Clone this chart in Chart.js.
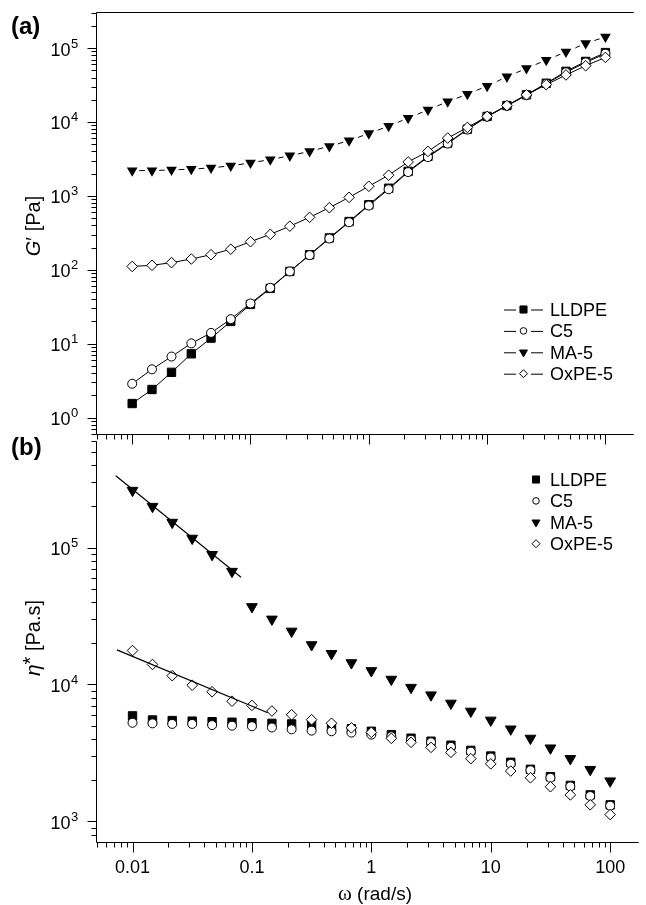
<!DOCTYPE html>
<html>
<head>
<meta charset="utf-8">
<script src="https://cdn.jsdelivr.net/npm/chart.js@4.4.0/dist/chart.umd.min.js"></script>
<style>
  body{margin:0;background:#fff;width:646px;height:905px;overflow:hidden;position:relative;}
  .panel{position:absolute;left:0;}
  #wrapA{top:0;}
  #wrapB{top:434px;}
</style>
</head>
<body>
<div class="panel" id="wrapA"><canvas id="chartA" width="646" height="450"></canvas></div>
<div class="panel" id="wrapB"><canvas id="chartB" width="646" height="471"></canvas></div>
<script>
// angular frequency, rad/s
const omega = [0.01, 0.0147, 0.0215, 0.0316, 0.0464, 0.0681, 0.1, 0.147, 0.215, 0.316, 0.464, 0.681,
  1, 1.47, 2.15, 3.16, 4.64, 6.81, 10, 14.7, 21.5, 31.6, 46.4, 68.1, 100];

// (a) storage modulus G' [Pa]
const gLLDPE = [1.55, 2.4, 4.1, 7.3, 11.9, 20, 34, 56, 95, 160, 270, 450, 760, 1270, 2150, 3430, 5190, 8000, 11900, 16700, 23300, 33400, 48500, 66000, 87000];
const gC5 = [2.87, 4.5, 6.7, 10.1, 14, 21.5, 35, 57, 95, 158, 265, 440, 740, 1230, 2100, 3350, 5100, 7900, 11800, 16500, 23000, 33000, 47000, 64000, 84000];
const gMA5 = [2200, 2200, 2250, 2300, 2400, 2550, 2800, 3100, 3500, 4000, 4700, 5600, 7000, 8800, 11300, 14600, 18900, 23800, 30700, 41000, 53200, 68900, 89100, 115700, 142000];
const gOxPE5 = [111, 115, 125, 140, 160, 190, 240, 302, 389, 513, 692, 955, 1350, 1905, 2880, 4000, 6060, 8440, 11900, 16700, 23300, 32000, 43300, 57700, 74800];

// (b) complex viscosity eta* [Pa.s]
const etaLLDPE = [5900, 5500, 5450, 5400, 5350, 5300, 5250, 5200, 5150, 5050, 4900, 4750, 4550, 4300, 4050, 3850, 3600, 3300, 3000, 2700, 2400, 2120, 1830, 1560, 1320];
const etaC5 = [5250, 5200, 5150, 5150, 5050, 5000, 4950, 4850, 4700, 4600, 4550, 4450, 4300, 4180, 3950, 3780, 3500, 3230, 2930, 2630, 2360, 2080, 1800, 1530, 1300];
const etaMA5 = [262000, 200000, 153000, 117000, 89000, 67000, 37000, 30000, 24500, 19500, 16800, 14400, 12600, 10900, 9510, 8380, 7290, 6370, 5480, 4720, 4040, 3430, 2870, 2390, 1970];
const etaOxPE5 = [17700, 14000, 11600, 9880, 8850, 7550, 7030, 6400, 6010, 5530, 5210, 4820, 4470, 4040, 3780, 3470, 3190, 2870, 2630, 2330, 2080, 1790, 1560, 1320, 1120];

// power-law fits at low frequency (end points)
const fitMA5Omega = [0.00724, 0.081];
const fitMA5Eta = [335000, 60800];
const fitOxPEOmega = [0.0074, 0.1355];
const fitOxPEEta = [17900, 6220];

const seriesNames = ['LLDPE', 'C5', 'MA-5', 'OxPE-5'];
const xTickLabels = ['0.01', '0.1', '1', '10', '100'];
const gExponents = [0, 1, 2, 3, 4, 5];
const etaExponents = [3, 4, 5];

const X_MIN = 0.004945, X_MAX = 173.7;
const FONT = '"Liberation Sans", Arial, sans-serif';

const markers = [
  {style: 'rect', r: 5.9, fill: '#000', lr: 5},
  {style: 'circle', r: 4.5, fill: '#fff', lr: 3.3},
  {style: 'triangle', rot: 180, r: 6.2, fill: '#000', lr: 4.6},
  {style: 'rectRot', r: 5.3, fill: '#fff', lr: 4}
];

function seriesDataset(i, ys, showLine) {
  const m = markers[i];
  return {
    label: seriesNames[i],
    data: omega.map((w, k) => ({x: w, y: ys[k]})),
    showLine: showLine,
    borderColor: '#000',
    borderWidth: 1,
    backgroundColor: m.fill,
    pointStyle: m.style,
    pointRotation: m.rot || 0,
    pointRadius: m.r,
    pointBorderColor: '#000',
    pointBackgroundColor: m.fill,
    pointBorderWidth: 1,
    tension: 0,
    order: 4 - i
  };
}

// filled triangles in (a): white rim leaves a small gap between line and symbol,
// drawn first so the rim never covers the other series
function withGap(ds) {
  ds.pointBorderColor = '#fff';
  ds.pointBorderWidth = 3;
  ds.pointRadius = ds.pointRadius + 3;
  ds.order = 9;
  return ds;
}

function fitDataset(ws, etas) {
  return {
    label: 'fit',
    data: ws.map((w, k) => ({x: w, y: etas[k]})),
    showLine: true,
    borderColor: '#000',
    borderWidth: 1.2,
    pointRadius: 0,
    order: 0
  };
}

function minorTicks(exps, min, max) {
  const list = [];
  for (let e = exps[0] - 1; e <= exps[exps.length - 1]; e++) {
    for (let m = 1; m < 10; m++) {
      const v = m * Math.pow(10, e);
      if (v >= min * 0.999 && v <= max * 1.001) list.push({v: v, major: m === 1});
    }
  }
  return list;
}

function powLabel(ctx, exp, xRight, y) {
  ctx.textBaseline = 'alphabetic';
  ctx.font = '18px ' + FONT;
  ctx.textAlign = 'right';
  ctx.fillText('10', xRight, y + 7.5);
  ctx.font = '13px ' + FONT;
  ctx.textAlign = 'left';
  ctx.fillText(String(exp), xRight + 0.6, y - 0.5);
}

function drawLegend(ctx, chart, x0, y0, step, withLine) {
  const H = Chart.helpers;
  seriesNames.forEach((name, i) => {
    const m = markers[i];
    const y = y0 + i * step;
    if (withLine) {
      ctx.beginPath();
      ctx.moveTo(504, y + 0.5);
      ctx.lineTo(516, y + 0.5);
      ctx.moveTo(531, y + 0.5);
      ctx.lineTo(543, y + 0.5);
      ctx.lineWidth = 1;
      ctx.strokeStyle = '#000';
      ctx.stroke();
    }
    ctx.fillStyle = m.fill;
    ctx.strokeStyle = '#000';
    ctx.lineWidth = 1;
    H.drawPoint(ctx, {pointStyle: m.style, radius: m.lr, rotation: m.rot || 0, borderWidth: 1}, withLine ? 523.5 : x0, y);
    ctx.fillStyle = '#000';
    ctx.font = '18px ' + FONT;
    ctx.textAlign = 'left';
    ctx.textBaseline = 'alphabetic';
    ctx.fillText(name, 550, y + 6.5);
  });
}

const framePlugin = {
  id: 'frame',
  afterDraw(chart, args, opts) {
    const ctx = chart.ctx;
    const a = chart.chartArea;
    const xs = chart.scales.x, ys = chart.scales.y;
    const L = Math.round(a.left) + 0.5, B = Math.round(a.bottom) + 0.5;
    ctx.save();
    ctx.strokeStyle = '#000';
    ctx.fillStyle = '#000';
    ctx.lineWidth = 1;

    // axis lines
    ctx.beginPath();
    ctx.moveTo(L, opts.panel === 'a' ? Math.round(a.top) + 0.5 : a.top);
    ctx.lineTo(L, B);
    ctx.lineTo(a.right, B);
    if (opts.panel === 'a') {
      ctx.moveTo(L, Math.round(a.top) + 0.5);
      ctx.lineTo(a.right, Math.round(a.top) + 0.5);
    }
    ctx.stroke();

    // x ticks, pointing down
    ctx.beginPath();
    minorTicks([-2, 2], X_MIN, X_MAX).forEach(t => {
      const px = Math.round(xs.getPixelForValue(t.v)) + 0.5;
      ctx.moveTo(px, B);
      ctx.lineTo(px, B + (t.major ? 10 : 5));
    });
    // y ticks, pointing left
    minorTicks(opts.exps, ys.min, ys.max).forEach(t => {
      const py = Math.round(ys.getPixelForValue(t.v)) + 0.5;
      ctx.moveTo(L, py);
      ctx.lineTo(L - (t.major ? 9 : 5), py);
    });
    ctx.stroke();

    opts.exps.forEach(e => powLabel(ctx, e, 70.5, ys.getPixelForValue(Math.pow(10, e))));

    if (opts.panel === 'b') {
      ctx.font = '18px ' + FONT;
      ctx.textAlign = 'center';
      ctx.textBaseline = 'alphabetic';
      xTickLabels.forEach(lbl => {
        ctx.fillText(lbl, xs.getPixelForValue(parseFloat(lbl)), B + 30);
      });
      // x title
      const fW = '21px "Liberation Serif", serif', fR = '19px ' + FONT;
      const rest = ' (rad/s)';
      ctx.font = fW;
      const wW = ctx.measureText('\u03c9').width;
      ctx.font = fR;
      const wR = ctx.measureText(rest).width;
      const x0 = 375 - (wW + wR) / 2;
      ctx.textAlign = 'left';
      ctx.font = fW;
      ctx.fillText('\u03c9', x0, B + 57);
      ctx.font = fR;
      ctx.fillText(rest, x0 + wW, B + 57);
    }

    // y title, rotated
    ctx.save();
    ctx.translate(40, opts.titleY);
    ctx.rotate(-Math.PI / 2);
    ctx.textBaseline = 'alphabetic';
    ctx.textAlign = 'left';
    const parts = opts.title;
    let total = 0;
    parts.forEach(p => { ctx.font = p.f; total += ctx.measureText(p.t).width; });
    let cx = -total / 2;
    parts.forEach(p => {
      ctx.font = p.f;
      ctx.fillText(p.t, cx, p.dy || 0);
      cx += ctx.measureText(p.t).width;
    });
    ctx.restore();

    // panel letter
    ctx.font = 'bold 24px ' + FONT;
    ctx.textAlign = 'left';
    ctx.textBaseline = 'alphabetic';
    ctx.fillText(opts.letter, 11, opts.letterY);

    drawLegend(ctx, chart, 536, opts.legendY, 21.4, opts.panel === 'a');
    ctx.restore();
  }
};

function baseOptions(yMin, yMax, pad, frame) {
  return {
    responsive: false,
    animation: false,
    events: [],
    layout: {padding: pad},
    plugins: {legend: {display: false}, tooltip: {enabled: false}, frame: frame},
    scales: {
      x: {type: 'logarithmic', min: X_MIN, max: X_MAX, display: false},
      y: {type: 'logarithmic', min: yMin, max: yMax, display: false}
    }
  };
}

new Chart(document.getElementById('chartA'), {
  type: 'line',
  data: {
    datasets: [
      seriesDataset(0, gLLDPE, true),
      seriesDataset(1, gC5, true),
      withGap(seriesDataset(2, gMA5, true)),
      seriesDataset(3, gOxPE5, true)
    ]
  },
  options: baseOptions(0.628, 306000, {left: 96, top: 12, right: 0, bottom: 16}, {
    panel: 'a', exps: gExponents, letter: '(a)', letterY: 34, legendY: 309.5, titleY: 226,
    title: [
      {t: 'G', f: 'italic 20px ' + FONT},
      {t: '\u2032', f: '20px ' + FONT},
      {t: ' [Pa]', f: '20px ' + FONT}
    ]
  }),
  plugins: [framePlugin]
});

new Chart(document.getElementById('chartB'), {
  type: 'line',
  data: {
    datasets: [
      seriesDataset(0, etaLLDPE, false),
      seriesDataset(1, etaC5, false),
      seriesDataset(2, etaMA5, false),
      seriesDataset(3, etaOxPE5, false),
      fitDataset(fitMA5Omega, fitMA5Eta),
      fitDataset(fitOxPEOmega, fitOxPEEta)
    ]
  },
  options: baseOptions(706, 600000, {left: 96, top: 0, right: 0, bottom: 63}, {
    panel: 'b', exps: etaExponents, letter: '(b)', letterY: 21, legendY: 45.5, titleY: 204,
    title: [
      {t: '\u03b7', f: 'italic 21px ' + FONT},
      {t: '*', f: '20px ' + FONT, dy: -3},
      {t: ' [Pa.s]', f: '20px ' + FONT}
    ]
  }),
  plugins: [framePlugin]
});
</script>
</body>
</html>
